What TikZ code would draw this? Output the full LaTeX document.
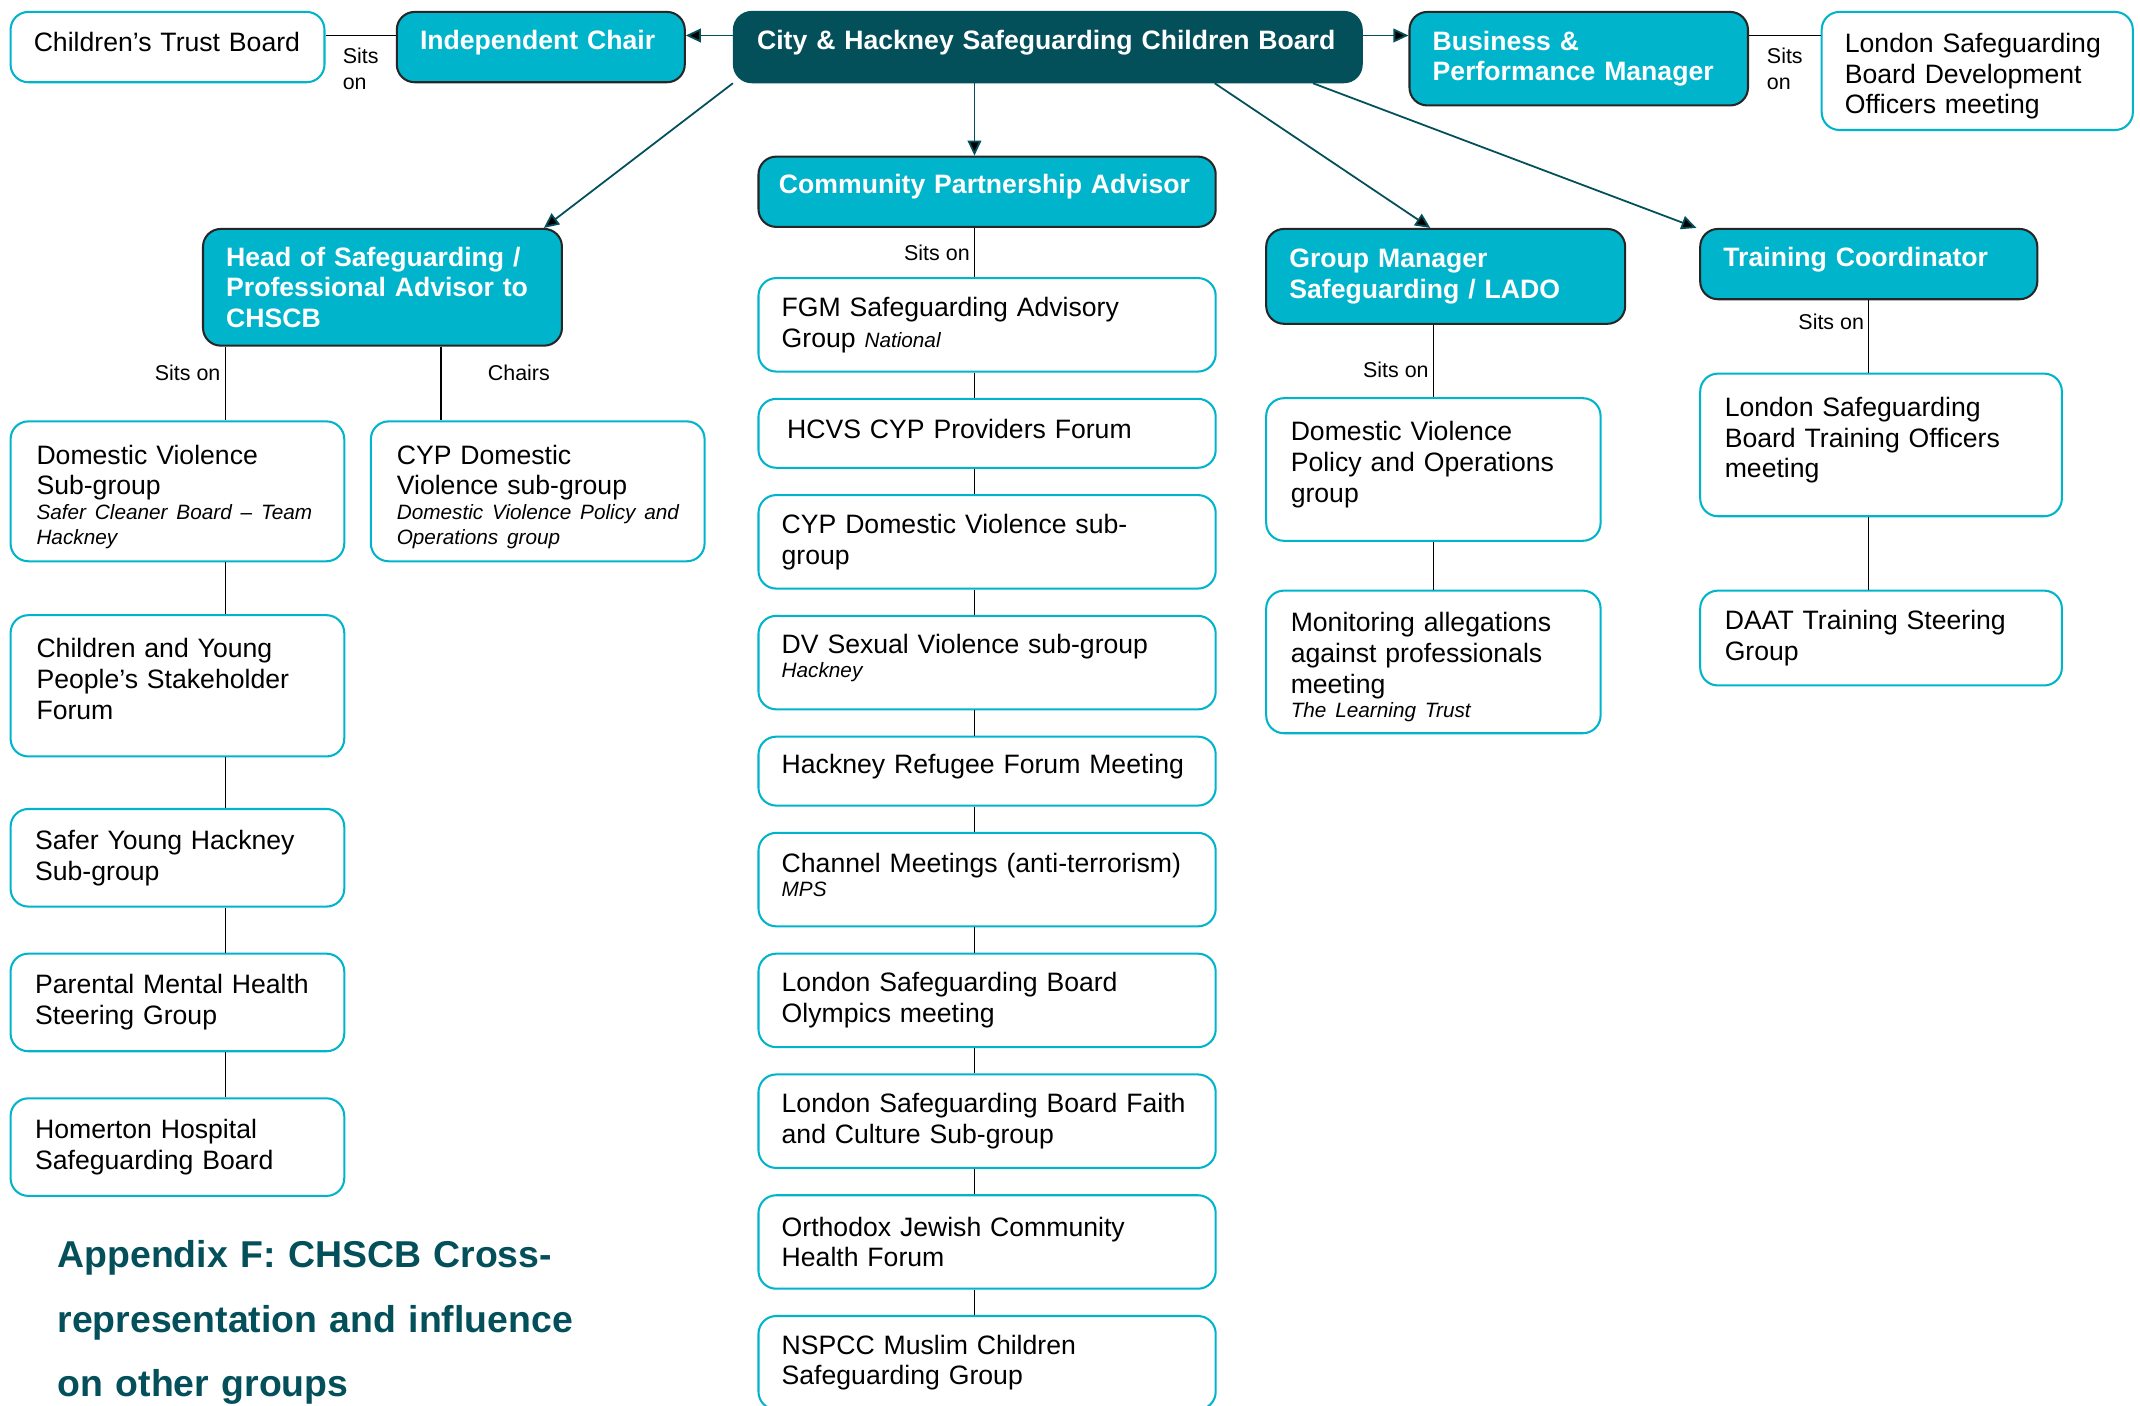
\documentclass[tikz,border=0pt]{standalone}
\usepackage{fontspec}
\setmainfont{Liberation Sans}
\usetikzlibrary{positioning,arrows.meta}

\definecolor{chscyan}{HTML}{00B4CC}
\definecolor{chsdark}{HTML}{03505B}

\newcommand{\grpfont}{\fontsize{19.5}{22.5}\selectfont}
\newcommand{\rolefont}{\fontsize{19.5}{22.5}\selectfont\bfseries}
\newcommand{\grpnote}{\fontsize{15.2}{18}\selectfont\itshape}
\newcommand{\sitsfont}{\fontsize{15.7}{19}\selectfont}
\newcommand{\apptitlefont}{\fontsize{27.4}{47}\selectfont\bfseries}

\begin{document}
\begin{tikzpicture}[x=1pt, y=-1pt, >={Triangle[length=11pt,width=10pt]}]
    \tikzset{
      lift/.style={execute at end node={\par\nointerlineskip\hrule height 0pt depth #1 width 0pt}},
      lift/.default=7pt,
      sink/.style={execute at begin node={\rule{0pt}{#1}}},
      sink/.default=22pt,
      grp/.style={
        draw=chscyan,
        line width=1.5pt,
        fill=white,
        rounded corners=13pt,
        align=left,
        anchor=north west,
        inner xsep=17pt,
        inner ysep=4pt,
        font=\grpfont
      },
      role/.style={grp, draw=black!85, fill=chscyan, text=white, font=\rolefont},
      board/.style={role, draw=chsdark, fill=chsdark},
      dims/.style 2 args={text width=#1, minimum height=#2},
      link/.style={draw, line width=1pt},
      reports/.style={draw=chsdark, line width=1.3pt},
      sits/.style={font=\sitsfont, inner sep=3pt, align=left}
    };

    \clip (0,0) rectangle (1568,1030);
    \fill[white] (0,0) rectangle (1568,1030);

    \node [grp, dims={196pt}{51.5pt}, lift] (ctb) at (7,8) {Children’s Trust Board};
    \node [role, dims={177pt}{51.5pt}, lift] (ichair) at (290,8) {Independent Chair};
    \node [board, dims={426pt}{51.5pt}, lift] (chscb) at (537,8) {City \& Hackney Safeguarding Children Board};
    \node [role, dims={214pt}{68.5pt}] (bpm) at (1032,8) {Business \&\\Performance Manager};
    \node [grp, dims={194pt}{86.5pt}, sink] (lsbdev) at (1334,8) {London Safeguarding\\Board Development\\Officers meeting};

    \node [role, dims={305pt}{51.5pt}, inner xsep=15pt, lift] (cpa) at (555,114) {Community Partnership Advisor};
    \node [role, dims={229pt}{85.5pt}] (hos) at (148,167) {Head of Safeguarding /\\Professional Advisor to\\CHSCB};
    \node [role, dims={229pt}{69.5pt}] (gm) at (927,167) {Group Manager\\Safeguarding / LADO};
    \node [role, dims={213pt}{51.5pt}, lift] (tc) at (1245,167) {Training Coordinator};

    \node [grp, dims={206.5pt}{102.5pt}, inner xsep=19pt, sink] (dvsub) at (7,308) {Domestic Violence\\Sub-group\par{\grpnote \mbox{Safer Cleaner Board – Team}\\Hackney\par}};
    \node [grp, dims={206.5pt}{102.5pt}, inner xsep=19pt, sink] (cypdv) at (271,308) {CYP Domestic\\Violence sub-group\par{\grpnote \mbox{Domestic Violence Policy and}\\Operations group\par}};
    \node [grp, dims={206.5pt}{103.5pt}, inner xsep=19pt, lift=10pt, below=38pt of dvsub] (cyps) {Children and Young\\People’s Stakeholder\\Forum};
    \node [grp, dims={208.5pt}{71.5pt}, inner xsep=18pt, below=37pt of cyps] (syh) {Safer Young Hackney\\Sub-group};
    \node [grp, dims={208.5pt}{71.5pt}, inner xsep=18pt, below=33pt of syh] (pmh) {Parental Mental Health\\Steering Group};
    \node [grp, dims={208.5pt}{71.5pt}, inner xsep=18pt, below=33pt of pmh] (hhsb) {Homerton Hospital\\Safeguarding Board};

    \node [grp, dims={301pt}{68.5pt}] (fgm) at (555,203) {FGM Safeguarding Advisory\\Group {\grpnote National}};
    \node [grp, dims={301pt}{50.5pt}, below=18.5pt of fgm, lift] (hcvs) {\hspace*{4pt}HCVS CYP Providers Forum};
    \node [grp, dims={301pt}{68.5pt}, below=18.5pt of hcvs] (cypdvm) {CYP Domestic Violence sub-\\group};
    \node [grp, dims={301pt}{68.5pt}, below=18.5pt of cypdvm, lift] (dvsv) {DV Sexual Violence sub-group\par{\grpnote Hackney\par}};
    \node [grp, dims={301pt}{50.5pt}, below=18.5pt of dvsv, lift] (hrf) {Hackney Refugee Forum Meeting};
    \node [grp, dims={301pt}{68.5pt}, below=18.5pt of hrf, lift] (channel) {Channel Meetings (anti-terrorism)\par{\grpnote MPS\par}};
    \node [grp, dims={301pt}{68.5pt}, below=18.5pt of channel] (olymp) {London Safeguarding Board\\Olympics meeting};
    \node [grp, dims={301pt}{68.5pt}, below=18.5pt of olymp] (faith) {London Safeguarding Board Faith\\and Culture Sub-group};
    \node [grp, dims={301pt}{68.5pt}, below=18.5pt of faith] (ojchf) {Orthodox Jewish Community\\Health Forum};
    \node [grp, dims={301pt}{68.5pt}, below=18.5pt of ojchf] (nspcc) {NSPCC Muslim Children\\Safeguarding Group};

    \node [grp, dims={209pt}{104.5pt}, inner xsep=18pt, lift] (dvpol) at (927,291) {Domestic Violence\\Policy and Operations\\group};
    \node [grp, dims={209pt}{104.5pt}, inner xsep=18pt, sink, below=35pt of dvpol] (mapm) {Monitoring allegations\\against professionals\\meeting\par{\grpnote The Learning Trust\par}};

    \node [grp, dims={229pt}{104.5pt}, inner xsep=18pt, lift] (lsbt) at (1245,273) {London Safeguarding\\Board Training Officers\\meeting};
    \node [grp, dims={229pt}{69.5pt}, inner xsep=18pt, below=53pt of lsbt] (daat) {DAAT Training Steering\\Group};

    \node [anchor=north west, inner sep=0pt, text width=440pt, align=left,
      font=\apptitlefont, text=chsdark] (title) at (42,909)
      {Appendix F: CHSCB Cross-\\representation and influence\\on other groups};

    \path[reports] ([yshift=-18pt]chscb.north west) edge[->] ([yshift=-18pt]ichair.north east)
      ([yshift=-18pt]chscb.north east) edge[->] ([yshift=-18pt]bpm.north west)
      (chscb.south west) edge[->] ([xshift=-14pt]hos.north east)
      ([xshift=159pt]cpa.north west |- chscb.south) edge[->] ([xshift=159pt]cpa.north west)
      ([xshift=353pt]chscb.south west) edge[->] ([xshift=121pt]gm.north west)
      ([xshift=425pt]chscb.south west) edge[->] ([xshift=-2pt]tc.north west);

    \path[link] ([yshift=-18pt]ctb.north east) -- ([yshift=-18pt]ichair.north west)
      node [sits, midway, below=6pt] {Sits\\on};
    \path[link] ([yshift=-18pt]bpm.north east) -- ([yshift=-18pt]lsbdev.north west)
      node [sits, midway, below=6pt] {Sits\\on};

    \path[link] ([xshift=158pt]dvsub.north west |- hos.south) -- ([xshift=158pt]dvsub.north west)
      node [sits, pos=0.35, left] {Sits on};
    \path[link] ([xshift=52pt]cypdv.north west |- hos.south) -- ([xshift=52pt]cypdv.north west)
      node [sits, pos=0.35, right=31pt] {Chairs};
    \path[link] ([xshift=159pt]fgm.north west |- cpa.south) -- ([xshift=159pt]fgm.north west)
      node [sits, midway, left] {Sits on};
    \path[link] (dvpol.north |- gm.south) -- (dvpol.north)
      node [sits, pos=0.62, left] {Sits on};
    \path[link] (tc.south) -- (tc.south |- lsbt.north)
      node [sits, pos=0.3, left] {Sits on};

    \foreach \a/\b in {dvsub/cyps, cyps/syh, syh/pmh, pmh/hhsb}
      \path[link] ([xshift=158pt]\a.south west) -- ([xshift=158pt]\b.north west);
    \foreach \a/\b in {fgm/hcvs, hcvs/cypdvm, cypdvm/dvsv, dvsv/hrf, hrf/channel,
      channel/olymp, olymp/faith, faith/ojchf, ojchf/nspcc}
      \path[link] ([xshift=159pt]\a.south west) -- ([xshift=159pt]\b.north west);
    \path[link] (dvpol.south) -- (mapm.north)
      (tc.south |- lsbt.south) -- (tc.south |- daat.north);
  \end{tikzpicture}
\end{document}
